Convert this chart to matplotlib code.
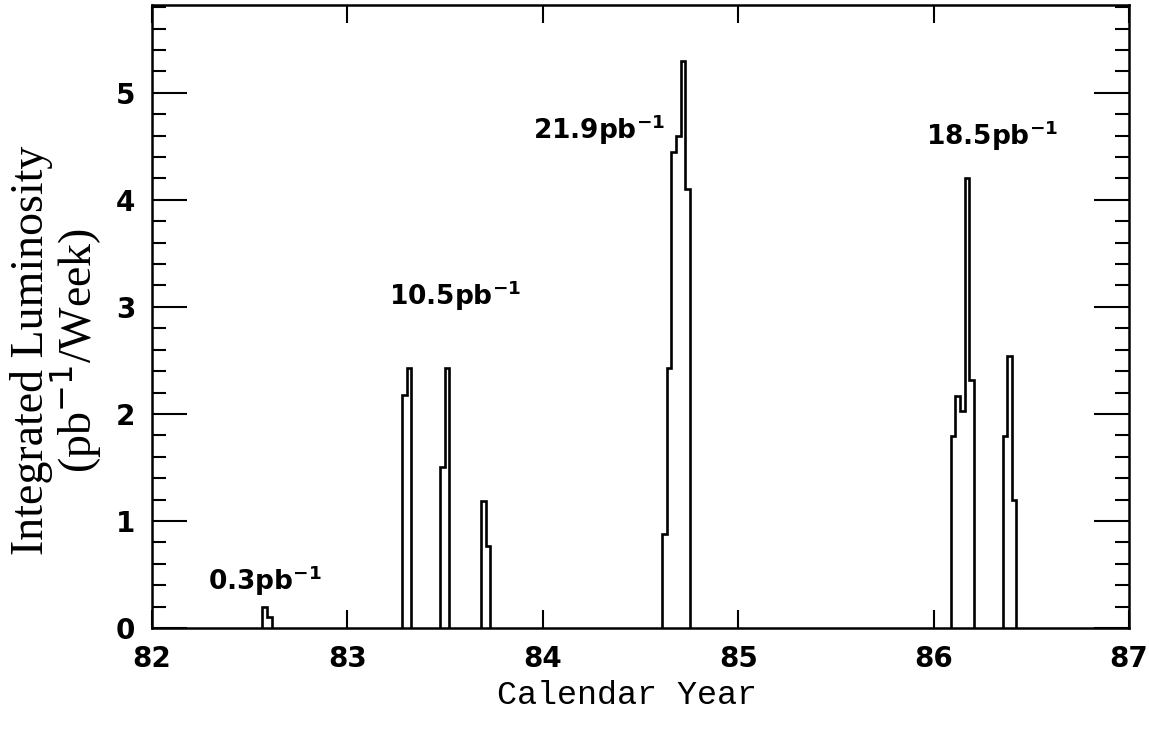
import numpy as np
import matplotlib.pyplot as plt
from matplotlib.ticker import MultipleLocator

# Weekly integrated luminosity per running period (pb^-1 / week)
run_start = [82.565, 83.279, 83.475, 83.684, 84.611, 86.088, 86.353]
run_lumi = [
    [0.20, 0.10],
    [2.18, 2.43],
    [1.50, 2.43],
    [1.19, 0.77],
    [0.88, 2.43, 4.45, 4.60, 5.30, 4.10],
    [1.79, 2.17, 2.03, 4.20, 2.32],
    [1.79, 2.54, 1.20],
]
bin_width = 0.0235

# period totals and where they are written
total_labels = ["0.3pb$^{\\mathbf{-1}}$", "10.5pb$^{\\mathbf{-1}}$",
                "21.9pb$^{\\mathbf{-1}}$", "18.5pb$^{\\mathbf{-1}}$"]
total_x = [82.58, 83.55, 84.29, 86.30]
total_y = [0.44, 3.10, 4.65, 4.60]

W, H = 1149, 739
fig = plt.figure(figsize=(W / 100, H / 100), dpi=100)
ax = fig.add_axes([152 / W, 1 - 628 / H, (1129 - 152) / W, (628 - 5) / H])

for start, lumi in zip(run_start, run_lumi):
    edges = start + bin_width * np.arange(len(lumi) + 1)
    ax.stairs(lumi, edges, baseline=0, color="black", lw=1.9)

for lab, x, y in zip(total_labels, total_x, total_y):
    ax.text(x, y, lab, ha="center", va="center", fontsize=19,
            fontweight="bold", family="DejaVu Sans")

ax.set_xlim(82, 87)
ax.set_ylim(0, 5.82)
ax.xaxis.set_major_locator(MultipleLocator(1))
ax.yaxis.set_major_locator(MultipleLocator(1))
ax.yaxis.set_minor_locator(MultipleLocator(0.2))

for s in ax.spines.values():
    s.set_linewidth(1.8)
ax.tick_params(axis="both", which="both", direction="in", top=True, right=True,
               width=1.5, labelsize=20)
ax.tick_params(axis="x", which="major", length=13, pad=12)
ax.tick_params(axis="y", which="major", length=25, pad=12)
ax.tick_params(axis="y", which="minor", length=10)
for lab in ax.get_xticklabels() + ax.get_yticklabels():
    lab.set_fontweight("bold")

fig.text(627 / W, 1 - 695 / H, "Calendar Year", ha="center", va="center",
         fontsize=24, family="Liberation Mono")
fig.text(32 / W, 1 - 350 / H, "Integrated Luminosity", rotation=90,
         ha="center", va="center", fontsize=33, family="Liberation Serif")
fig.text(76 / W, 1 - 350 / H, "(pb$^{-1}$/Week)", rotation=90,
         ha="center", va="center", fontsize=33, family="Liberation Serif")

fig.savefig("out.png", dpi=100)
